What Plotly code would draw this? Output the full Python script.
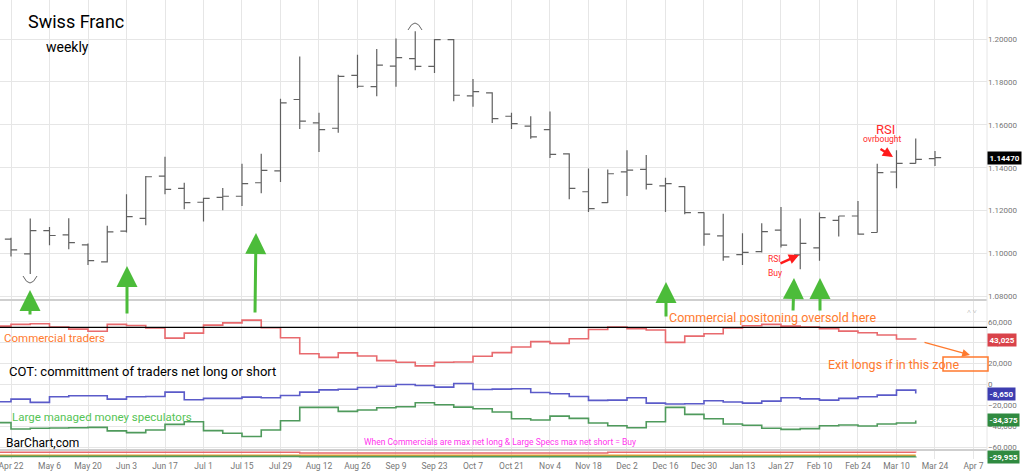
import plotly.graph_objects as go
import pandas as pd

# ---------------- data ----------------
bar_dates = pd.date_range("2024-04-22", periods=49, freq="7D").strftime("%Y-%m-%d").tolist()
opens = [1.1067, 1.0998, 1.1107, 1.1087, 1.1040, 1.0961, 1.1104, 1.1164, 1.1361, 1.1304,
         1.1239, 1.1262, 1.1267, 1.1330, 1.1385, 1.1718, 1.1609, 1.1584, 1.1831, 1.1778,
         1.1874, 1.1909, 1.1873, 1.1997, 1.1735, 1.1749, 1.1640, 1.1594, 1.1578, 1.1465,
         1.1288, 1.1237, 1.1381, 1.1392, 1.1315, 1.1312, 1.1191, 1.1082, 1.0995, 1.1009,
         1.1109, 1.0994, 1.1026, 1.1155, 1.1175, 1.1098, 1.1380, 1.1420, 1.1442]
highs = [1.1074, 1.1163, 1.1124, 1.1164, 1.1047, 1.1129, 1.1276, 1.1361, 1.1451, 1.1330,
         1.1260, 1.1305, 1.1419, 1.1465, 1.1722, 1.1919, 1.1656, 1.1834, 1.1927, 1.1953,
         1.2002, 1.2036, 1.2000, 1.2000, 1.1814, 1.1752, 1.1656, 1.1640, 1.1662, 1.1467,
         1.1397, 1.1392, 1.1481, 1.1459, 1.1353, 1.1314, 1.1193, 1.1186, 1.1095, 1.1141,
         1.1217, 1.1163, 1.1191, 1.1175, 1.1245, 1.1419, 1.1481, 1.1536, 1.1478]
lows = [1.0986, 1.0904, 1.1039, 1.1020, 1.0947, 1.0958, 1.1098, 1.1132, 1.1276, 1.1206,
        1.1149, 1.1202, 1.1222, 1.1281, 1.1333, 1.1581, 1.1473, 1.1563, 1.1772, 1.1733,
        1.1777, 1.1854, 1.1842, 1.1710, 1.1684, 1.1609, 1.1581, 1.1535, 1.1445, 1.1253,
        1.1194, 1.1235, 1.1268, 1.1299, 1.1194, 1.1183, 1.1036, 1.0966, 1.0946, 1.1005,
        1.1028, 1.0927, 1.0966, 1.1079, 1.1087, 1.1098, 1.1304, 1.1420, 1.1408]
closes = [1.1017, 1.1107, 1.1084, 1.1051, 1.0967, 1.1101, 1.1172, 1.1358, 1.1299, 1.1237,
          1.1257, 1.1267, 1.1326, 1.1388, 1.1702, 1.1617, 1.1578, 1.1826, 1.1780, 1.1878,
          1.1913, 1.1873, 1.1997, 1.1738, 1.1755, 1.1629, 1.1606, 1.1544, 1.1462, 1.1304,
          1.1209, 1.1372, 1.1389, 1.1322, 1.1326, 1.1191, 1.1090, 1.0984, 1.1005, 1.1102,
          1.1039, 1.1047, 1.1167, 1.1175, 1.1090, 1.1377, 1.1420, 1.1439, 1.1447]

cot_dates = pd.date_range("2024-04-15", periods=49, freq="7D").strftime("%Y-%m-%d").tolist()
commercials = [55900, 57500, 58100, 55000, 53000, 51000, 57500, 56500, 54000, 44400,
               49200, 56800, 59000, 61600, 54300, 44800, 29500, 26000, 30300, 27300,
               22900, 21300, 17800, 21300, 21600, 27000, 30500, 35900, 41000, 39400,
               43800, 52700, 54900, 53300, 52100, 40300, 46300, 48600, 54000, 56200,
               57500, 55900, 54900, 53300, 51100, 49500, 47300, 43500, 43025]
small_traders = [-16500, -14000, -17100, -11700, -10800, -10800, -14000, -11700, -11400, -7300,
                 -14600, -13300, -13300, -12100, -12700, -10500, -7300, -5100, -4500, -2900,
                 -1600, 0, -1000, -2500, 1000, -4800, -4400, -4100, -7600, -8900,
                 -11400, -15200, -14900, -12700, -17800, -18700, -18400, -15600, -16800, -17800,
                 -15900, -12700, -13700, -14900, -13300, -11700, -10200, -5400, -8650]
large_specs = [-36500, -42500, -41900, -41600, -41300, -41000, -44400, -46000, -43500, -38100,
               -35600, -44100, -46700, -49800, -43500, -34600, -21900, -21900, -25700, -24400,
               -22200, -21300, -17500, -19400, -21600, -23200, -26300, -32700, -34000, -30200,
               -32400, -36800, -39400, -41300, -35600, -21900, -28600, -32700, -37800, -39000,
               -41900, -42900, -42200, -39400, -38700, -39700, -37800, -36800, -34375]
cot_extreme_level = 54700

strip_dates = ["2024-04-15", "2024-08-05", "2024-11-25", "2025-03-17"]
strip_red = [52000, 40000, 55000, 50000]
strip_orange = [-6000, -6000, -6000, -6000]
strip_green = [-29000, -30500, -30500, -29955]

price_ticks = [1.08, 1.10, 1.12, 1.14, 1.16, 1.18, 1.20]
cot_ticks = [-60000, -40000, -20000, 0, 20000, 40000, 60000]

# ---------------- geometry helpers (pixels -> paper) ----------------
PW, PH = 987.0, 459.0
def px(X):
    return X / PW
def py(Y):
    return (PH - Y) / PH

FONT = "Roboto"
ORANGE = "#ff7a2e"
RED_TXT = "#ff2a2a"
GREEN_AR = "#4cbc3a"

fig = go.Figure()

fig.add_trace(go.Ohlc(
    x=bar_dates, open=opens, high=highs, low=lows, close=closes,
    increasing_line_color="#606060", decreasing_line_color="#606060",
    line_width=1.2, tickwidth=0.32, xaxis="x", yaxis="y", showlegend=False,
    hoverinfo="skip"))

fig.add_trace(go.Scatter(x=cot_dates, y=commercials, mode="lines", line_shape="hv",
                         line=dict(color="#e86a6e", width=1.6), xaxis="x", yaxis="y2",
                         showlegend=False, hoverinfo="skip"))
fig.add_trace(go.Scatter(x=cot_dates, y=small_traders, mode="lines", line_shape="hv",
                         line=dict(color="#5b5bc9", width=1.6), xaxis="x", yaxis="y2",
                         showlegend=False, hoverinfo="skip"))
fig.add_trace(go.Scatter(x=cot_dates, y=large_specs, mode="lines", line_shape="hv",
                         line=dict(color="#4f9a5c", width=1.6), xaxis="x", yaxis="y2",
                         showlegend=False, hoverinfo="skip"))

fig.add_trace(go.Scatter(x=strip_dates, y=strip_red, mode="lines", line_shape="hv",
                         line=dict(color="#e86a6e", width=1.5), xaxis="x", yaxis="y3",
                         showlegend=False, hoverinfo="skip"))
fig.add_trace(go.Scatter(x=strip_dates, y=strip_orange, mode="lines", line_shape="hv",
                         line=dict(color="#f0a030", width=1.5), xaxis="x", yaxis="y3",
                         showlegend=False, hoverinfo="skip"))
fig.add_trace(go.Scatter(x=strip_dates, y=strip_green, mode="lines", line_shape="hv",
                         line=dict(color="#4f9a5c", width=1.8), xaxis="x", yaxis="y3",
                         showlegend=False, hoverinfo="skip"))

grid = "#e6e6e6"
tickfont = dict(family=FONT, size=8.5, color="#777777")

fig.update_layout(
    width=1024, height=473,
    margin=dict(l=0, r=37, t=0, b=14),
    paper_bgcolor="white", plot_bgcolor="white",
    font=dict(family=FONT),
    showlegend=False,
    xaxis=dict(type="date", range=["2024-04-18", "2025-04-11 22:00"],
               tick0="2024-04-22", dtick=14 * 24 * 3600 * 1000, tickformat="%b %-d",
               showgrid=True, gridcolor=grid, gridwidth=1, ticks="", showline=False,
               zeroline=False, anchor="y3", tickfont=tickfont, ticklabeloverflow="allow",
               rangeslider=dict(visible=False)),
    yaxis=dict(domain=[py(299), 1.0], range=[1.0788, 1.2182], side="right",
               tickvals=price_ticks, tickformat=".5f", showgrid=True, gridcolor=grid,
               zeroline=False, ticks="", tickfont=dict(family=FONT, size=8, color="#777777"),
               anchor="x"),
    yaxis2=dict(domain=[py(449), py(301)], range=[-61700, 79900], side="right",
                tickvals=cot_ticks, tickformat=",d", showgrid=True, gridcolor=grid,
                zeroline=False, ticks="", tickfont=dict(family=FONT, size=8, color="#777777"),
                anchor="x"),
    yaxis3=dict(domain=[0.0, py(451)], range=[-79000, 78500], side="right",
                showticklabels=False, showgrid=False, zeroline=False, anchor="x"),
)

shapes = []
# panel separators
for Y in (300, 450):
    shapes.append(dict(type="line", xref="paper", yref="paper", x0=0, x1=1,
                       y0=py(Y), y1=py(Y), line=dict(color="#cfcfcf", width=2.2)))
# right border
shapes.append(dict(type="line", xref="paper", yref="paper", x0=1, x1=1, y0=0, y1=1,
                   line=dict(color="#e6e6e6", width=1)))
# extreme commercial level
shapes.append(dict(type="line", xref="paper", yref="y2", x0=0, x1=1,
                   y0=cot_extreme_level, y1=cot_extreme_level,
                   line=dict(color="black", width=1.4)))
# exit zone box
shapes.append(dict(type="rect", xref="paper", yref="paper", x0=px(943), x1=px(988),
                   y0=py(371), y1=py(357), line=dict(color=ORANGE, width=1.5)))
# swing markers (arcs)
def arc(X1, X2, Yend, Yctrl):
    return (f"M {px(X1)},{py(Yend)} Q {px((X1 + X2) / 2)},{py(Yctrl)} {px(X2)},{py(Yend)}")
shapes.append(dict(type="path", xref="paper", yref="paper", path=arc(23, 37, 276, 290),
                   line=dict(color="#666666", width=1)))
shapes.append(dict(type="path", xref="paper", yref="paper", path=arc(408, 422, 30, 16),
                   line=dict(color="#666666", width=1)))
fig.update_layout(shapes=shapes)

ann = []
def text(t, X, Y, size, color="black", anchor="left"):
    ann.append(dict(text=t, x=px(X), y=py(Y), xref="paper", yref="paper",
                    xanchor=anchor, yanchor="middle", showarrow=False,
                    font=dict(family=FONT, size=size, color=color)))

text("Swiss Franc", 26, 22, 18)
text("weekly", 44, 47, 14)
text("Commercial traders", 2, 338, 11.5, ORANGE)
text("COT: committment of traders net long or short", 7, 371, 13)
text("Large managed money speculators", 10, 417, 11.5, "#55c455")
text("BarChart,com", 4, 443, 12)
text("When Commercials are max net long &amp; Large Specs max net short = Buy", 362, 442, 8.5, "#ff33ee")
text("Commercial positoning oversold here", 667, 317, 12.5, ORANGE)
text("Exit longs if in this zone", 826, 364, 12.5, ORANGE)
text("RSI", 885, 129, 13, RED_TXT, "center")
text("ovrbought", 882, 138.5, 8.5, RED_TXT, "center")
text("RSI", 766, 258.5, 8.5, RED_TXT)
text("Buy", 766, 272.5, 8.5, RED_TXT)
text("˄ ˅", 972, 312, 7, "#999999", "center")

def arrow(Xtip, Ytip, Xtail, Ytail, color, width, size):
    ann.append(dict(text="", x=px(Xtip), y=py(Ytip), xref="paper", yref="paper",
                    ax=Xtail - Xtip, ay=Ytail - Ytip, showarrow=True, arrowhead=2,
                    arrowsize=size, arrowwidth=width, arrowcolor=color, standoff=0))

for Xt, Yt, Xb, Yb in [(30, 290, 30, 316), (127, 266, 127, 315), (256, 233, 255, 314),
                       (666, 282, 666, 318), (794, 278, 793, 312), (820, 278, 820, 312)]:
    arrow(Xt, Yt, Xb, Yb, GREEN_AR, 3, 1.4)
arrow(893, 157, 879, 148, "#ff1a1a", 2.4, 0.85)
arrow(799, 255, 779, 264, "#ff1a1a", 2.4, 0.85)
arrow(970, 355, 923, 342, ORANGE, 1.3, 1.2)

def value_label(t, yref, yval, bg):
    ann.append(dict(text=f"<b>{t}</b>", x=1.0, xref="paper", xanchor="left", y=yval, yref=yref,
                    yanchor="middle", showarrow=False, bgcolor=bg, borderpad=1.5,
                    font=dict(family=FONT, size=8, color="white")))

value_label(f"{closes[-1]:.5f}", "y", closes[-1], "#000000")
value_label(f"{commercials[-1]:,}", "y2", commercials[-1], "#d9434a")
value_label(f"{small_traders[-1]:,}", "y2", small_traders[-1], "#3d3db0")
value_label(f"{large_specs[-1]:,}", "y2", large_specs[-1], "#2f8a40")
value_label(f"{strip_green[-1]:,}", "y3", strip_green[-1], "#2f8a40")

fig.update_layout(annotations=ann)

fig.write_html("out.html", config={"displayModeBar": False},
               post_script="document.body.style.margin='0';document.body.style.overflow='hidden';")
